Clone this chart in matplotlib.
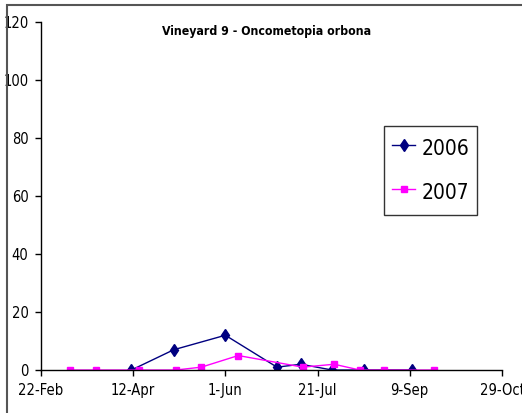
import datetime as dt
import matplotlib
matplotlib.use("Agg")
import matplotlib.pyplot as plt
import matplotlib.dates as mdates
from matplotlib.patches import Rectangle

plt.rcParams['font.family'] = ['DejaVu Sans']
plt.rcParams['font.stretch'] = 'condensed'

# sampling dates (plotted on a common leap-year calendar)
dates_2006 = ["2008-04-11", "2008-05-04", "2008-06-01", "2008-06-29",
              "2008-07-12", "2008-07-29", "2008-08-15", "2008-09-10"]
vals_2006 = [0, 7, 12, 1, 2, 0, 0, 0]

dates_2007 = ["2008-03-09", "2008-03-23", "2008-04-15", "2008-05-05",
              "2008-05-19", "2008-06-08", "2008-07-13", "2008-07-30",
              "2008-08-13", "2008-08-26", "2008-09-22"]
vals_2007 = [0, 0, 0, 0, 1, 5, 1, 2, 0, 0, 0]

tick_dates = ["2008-02-22", "2008-04-12", "2008-06-01", "2008-07-21",
              "2008-09-09", "2008-10-29"]
tick_labels = ["22-Feb", "12-Apr", "1-Jun", "21-Jul", "9-Sep", "29-Oct"]
yticks = [0, 20, 40, 60, 80, 100, 120]


def to_dt(lst):
    return [dt.datetime.strptime(s, "%Y-%m-%d") for s in lst]


fig = plt.figure(figsize=(5.22, 4.13), dpi=100)
ax = fig.add_axes([0.0785, 0.104, 0.883, 0.8426])

ax.plot(to_dt(dates_2006), vals_2006, color='#000080', marker='d', markersize=6,
        linewidth=1, label='2006')
ax.plot(to_dt(dates_2007), vals_2007, color='#FF00FF', marker='s', markersize=5,
        linewidth=1, label='2007')

tk = to_dt(tick_dates)
ax.set_xlim(mdates.date2num(tk[0]), mdates.date2num(tk[-1]))
ax.set_xticks(tk)
ax.set_xticklabels(tick_labels)
ax.set_ylim(0, 120)
ax.set_yticks(yticks)
ax.tick_params(labelsize=10.5, length=4, width=1, direction='out', pad=5)

for s in ['top', 'right']:
    ax.spines[s].set_visible(False)
for s in ['left', 'bottom']:
    ax.spines[s].set_linewidth(1)
ax.patch.set_visible(False)

ax.set_title("Vineyard 9 - Oncometopia orbona", fontsize=8.8, fontweight='bold',
             y=0.962, pad=0, x=0.49)

leg = ax.legend(loc='upper left', bbox_to_anchor=(0.744, 0.701), fontsize=15,
                frameon=True, fancybox=False, edgecolor='black', handlelength=1.1,
                handleheight=1.7, handletextpad=0.3, labelspacing=0.75,
                borderpad=0.4, borderaxespad=0)
leg.get_frame().set_linewidth(1)

# outer chart border
fig.add_artist(Rectangle((7 / 522, -0.1), 1.2, 1.1 - 4.5 / 413,
                         transform=fig.transFigure, fill=False,
                         edgecolor='#555555', linewidth=1.5))

fig.savefig("out.png", dpi=100)
